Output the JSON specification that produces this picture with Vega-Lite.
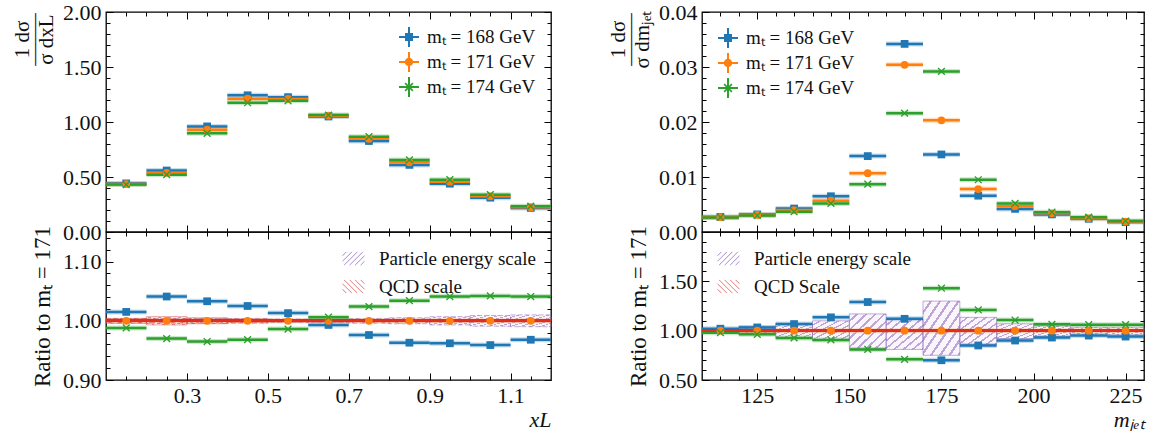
{
"$schema": "https://vega.github.io/schema/vega-lite/v6.json",
"padding": {"left": 10, "top": 0, "right": 5, "bottom": 0},
"datasets": {
"xl": [
{"x0":0.1,"x1":0.2,"xc":0.15,"s":"mₜ = 168 GeV","v":0.442,"r":1.015},
{"x0":0.2,"x1":0.3,"xc":0.25,"s":"mₜ = 168 GeV","v":0.559,"r":1.041},
{"x0":0.3,"x1":0.4,"xc":0.35,"s":"mₜ = 168 GeV","v":0.960,"r":1.033},
{"x0":0.4,"x1":0.5,"xc":0.45,"s":"mₜ = 168 GeV","v":1.243,"r":1.025},
{"x0":0.5,"x1":0.6,"xc":0.55,"s":"mₜ = 168 GeV","v":1.226,"r":1.013},
{"x0":0.6,"x1":0.7,"xc":0.65,"s":"mₜ = 168 GeV","v":1.050,"r":0.993},
{"x0":0.7,"x1":0.8,"xc":0.75,"s":"mₜ = 168 GeV","v":0.827,"r":0.976},
{"x0":0.8,"x1":0.9,"xc":0.85,"s":"mₜ = 168 GeV","v":0.610,"r":0.963},
{"x0":0.9,"x1":1.0,"xc":0.95,"s":"mₜ = 168 GeV","v":0.439,"r":0.962},
{"x0":1.0,"x1":1.1,"xc":1.05,"s":"mₜ = 168 GeV","v":0.312,"r":0.959},
{"x0":1.1,"x1":1.2,"xc":1.15,"s":"mₜ = 168 GeV","v":0.219,"r":0.968},
{"x0":0.1,"x1":0.2,"xc":0.15,"s":"mₜ = 171 GeV","v":0.436,"r":1.0},
{"x0":0.2,"x1":0.3,"xc":0.25,"s":"mₜ = 171 GeV","v":0.537,"r":1.0},
{"x0":0.3,"x1":0.4,"xc":0.35,"s":"mₜ = 171 GeV","v":0.930,"r":1.0},
{"x0":0.4,"x1":0.5,"xc":0.45,"s":"mₜ = 171 GeV","v":1.212,"r":1.0},
{"x0":0.5,"x1":0.6,"xc":0.55,"s":"mₜ = 171 GeV","v":1.210,"r":1.0},
{"x0":0.6,"x1":0.7,"xc":0.65,"s":"mₜ = 171 GeV","v":1.057,"r":1.0},
{"x0":0.7,"x1":0.8,"xc":0.75,"s":"mₜ = 171 GeV","v":0.847,"r":1.0},
{"x0":0.8,"x1":0.9,"xc":0.85,"s":"mₜ = 171 GeV","v":0.633,"r":1.0},
{"x0":0.9,"x1":1.0,"xc":0.95,"s":"mₜ = 171 GeV","v":0.457,"r":1.0},
{"x0":1.0,"x1":1.1,"xc":1.05,"s":"mₜ = 171 GeV","v":0.325,"r":1.0},
{"x0":1.1,"x1":1.2,"xc":1.15,"s":"mₜ = 171 GeV","v":0.226,"r":1.0},
{"x0":0.1,"x1":0.2,"xc":0.15,"s":"mₜ = 174 GeV","v":0.431,"r":0.988},
{"x0":0.2,"x1":0.3,"xc":0.25,"s":"mₜ = 174 GeV","v":0.521,"r":0.970},
{"x0":0.3,"x1":0.4,"xc":0.35,"s":"mₜ = 174 GeV","v":0.897,"r":0.965},
{"x0":0.4,"x1":0.5,"xc":0.45,"s":"mₜ = 174 GeV","v":1.175,"r":0.968},
{"x0":0.5,"x1":0.6,"xc":0.55,"s":"mₜ = 174 GeV","v":1.193,"r":0.986},
{"x0":0.6,"x1":0.7,"xc":0.65,"s":"mₜ = 174 GeV","v":1.063,"r":1.006},
{"x0":0.7,"x1":0.8,"xc":0.75,"s":"mₜ = 174 GeV","v":0.867,"r":1.024},
{"x0":0.8,"x1":0.9,"xc":0.85,"s":"mₜ = 174 GeV","v":0.655,"r":1.034},
{"x0":0.9,"x1":1.0,"xc":0.95,"s":"mₜ = 174 GeV","v":0.476,"r":1.041},
{"x0":1.0,"x1":1.1,"xc":1.05,"s":"mₜ = 174 GeV","v":0.339,"r":1.042},
{"x0":1.1,"x1":1.2,"xc":1.15,"s":"mₜ = 174 GeV","v":0.235,"r":1.041}
],
"mj": [
{"x0":110,"x1":120,"xc":115,"s":"mₜ = 168 GeV","v":0.00275,"r":1.02},
{"x0":120,"x1":130,"xc":125,"s":"mₜ = 168 GeV","v":0.0032,"r":1.033},
{"x0":130,"x1":140,"xc":135,"s":"mₜ = 168 GeV","v":0.00427,"r":1.067},
{"x0":140,"x1":150,"xc":145,"s":"mₜ = 168 GeV","v":0.0065,"r":1.135},
{"x0":150,"x1":160,"xc":155,"s":"mₜ = 168 GeV","v":0.0138,"r":1.29},
{"x0":160,"x1":170,"xc":165,"s":"mₜ = 168 GeV","v":0.0342,"r":1.12},
{"x0":170,"x1":180,"xc":175,"s":"mₜ = 168 GeV","v":0.0141,"r":0.70},
{"x0":180,"x1":190,"xc":185,"s":"mₜ = 168 GeV","v":0.0066,"r":0.85},
{"x0":190,"x1":200,"xc":195,"s":"mₜ = 168 GeV","v":0.0042,"r":0.90},
{"x0":200,"x1":210,"xc":205,"s":"mₜ = 168 GeV","v":0.0032,"r":0.93},
{"x0":210,"x1":220,"xc":215,"s":"mₜ = 168 GeV","v":0.0024,"r":0.95},
{"x0":220,"x1":230,"xc":225,"s":"mₜ = 168 GeV","v":0.0018,"r":0.94},
{"x0":110,"x1":120,"xc":115,"s":"mₜ = 171 GeV","v":0.0027,"r":1.0},
{"x0":120,"x1":130,"xc":125,"s":"mₜ = 171 GeV","v":0.0031,"r":1.0},
{"x0":130,"x1":140,"xc":135,"s":"mₜ = 171 GeV","v":0.0040,"r":1.0},
{"x0":140,"x1":150,"xc":145,"s":"mₜ = 171 GeV","v":0.0057,"r":1.0},
{"x0":150,"x1":160,"xc":155,"s":"mₜ = 171 GeV","v":0.0107,"r":1.0},
{"x0":160,"x1":170,"xc":165,"s":"mₜ = 171 GeV","v":0.0304,"r":1.0},
{"x0":170,"x1":180,"xc":175,"s":"mₜ = 171 GeV","v":0.0203,"r":1.0},
{"x0":180,"x1":190,"xc":185,"s":"mₜ = 171 GeV","v":0.0078,"r":1.0},
{"x0":190,"x1":200,"xc":195,"s":"mₜ = 171 GeV","v":0.0047,"r":1.0},
{"x0":200,"x1":210,"xc":205,"s":"mₜ = 171 GeV","v":0.0034,"r":1.0},
{"x0":210,"x1":220,"xc":215,"s":"mₜ = 171 GeV","v":0.0025,"r":1.0},
{"x0":220,"x1":230,"xc":225,"s":"mₜ = 171 GeV","v":0.0019,"r":1.0},
{"x0":110,"x1":120,"xc":115,"s":"mₜ = 174 GeV","v":0.00265,"r":0.98},
{"x0":120,"x1":130,"xc":125,"s":"mₜ = 174 GeV","v":0.0030,"r":0.963},
{"x0":130,"x1":140,"xc":135,"s":"mₜ = 174 GeV","v":0.0037,"r":0.926},
{"x0":140,"x1":150,"xc":145,"s":"mₜ = 174 GeV","v":0.0052,"r":0.906},
{"x0":150,"x1":160,"xc":155,"s":"mₜ = 174 GeV","v":0.0087,"r":0.81},
{"x0":160,"x1":170,"xc":165,"s":"mₜ = 174 GeV","v":0.0216,"r":0.71},
{"x0":170,"x1":180,"xc":175,"s":"mₜ = 174 GeV","v":0.0292,"r":1.43},
{"x0":180,"x1":190,"xc":185,"s":"mₜ = 174 GeV","v":0.0095,"r":1.21},
{"x0":190,"x1":200,"xc":195,"s":"mₜ = 174 GeV","v":0.0052,"r":1.108},
{"x0":200,"x1":210,"xc":205,"s":"mₜ = 174 GeV","v":0.0036,"r":1.064},
{"x0":210,"x1":220,"xc":215,"s":"mₜ = 174 GeV","v":0.0027,"r":1.06},
{"x0":220,"x1":230,"xc":225,"s":"mₜ = 174 GeV","v":0.0020,"r":1.06}
],
"xlb": [
{"x0":0.1,"x1":0.2,"b":"Particle energy scale","lo":0.996,"hi":1.004},
{"x0":0.2,"x1":0.3,"b":"Particle energy scale","lo":0.996,"hi":1.004},
{"x0":0.3,"x1":0.4,"b":"Particle energy scale","lo":0.996,"hi":1.004},
{"x0":0.4,"x1":0.5,"b":"Particle energy scale","lo":0.996,"hi":1.004},
{"x0":0.5,"x1":0.6,"b":"Particle energy scale","lo":0.997,"hi":1.003},
{"x0":0.6,"x1":0.7,"b":"Particle energy scale","lo":0.997,"hi":1.003},
{"x0":0.7,"x1":0.8,"b":"Particle energy scale","lo":0.996,"hi":1.004},
{"x0":0.8,"x1":0.9,"b":"Particle energy scale","lo":0.995,"hi":1.005},
{"x0":0.9,"x1":1.0,"b":"Particle energy scale","lo":0.993,"hi":1.007},
{"x0":1.0,"x1":1.1,"b":"Particle energy scale","lo":0.991,"hi":1.009},
{"x0":1.1,"x1":1.2,"b":"Particle energy scale","lo":0.990,"hi":1.010},
{"x0":0.1,"x1":0.2,"b":"QCD scale","lo":0.996,"hi":1.004},
{"x0":0.2,"x1":0.3,"b":"QCD scale","lo":0.993,"hi":1.007},
{"x0":0.3,"x1":0.4,"b":"QCD scale","lo":0.995,"hi":1.005},
{"x0":0.4,"x1":0.5,"b":"QCD scale","lo":0.997,"hi":1.003},
{"x0":0.5,"x1":0.6,"b":"QCD scale","lo":0.998,"hi":1.002},
{"x0":0.6,"x1":0.7,"b":"QCD scale","lo":0.998,"hi":1.002},
{"x0":0.7,"x1":0.8,"b":"QCD scale","lo":0.998,"hi":1.002},
{"x0":0.8,"x1":0.9,"b":"QCD scale","lo":0.998,"hi":1.002},
{"x0":0.9,"x1":1.0,"b":"QCD scale","lo":0.998,"hi":1.002},
{"x0":1.0,"x1":1.1,"b":"QCD scale","lo":0.998,"hi":1.002},
{"x0":1.1,"x1":1.2,"b":"QCD scale","lo":0.998,"hi":1.002}
],
"mjb": [
{"x0":110,"x1":120,"b":"Particle energy scale","lo":0.98,"hi":1.02},
{"x0":120,"x1":130,"b":"Particle energy scale","lo":0.96,"hi":1.045},
{"x0":130,"x1":140,"b":"Particle energy scale","lo":0.93,"hi":1.07},
{"x0":140,"x1":150,"b":"Particle energy scale","lo":0.90,"hi":1.10},
{"x0":150,"x1":160,"b":"Particle energy scale","lo":0.82,"hi":1.17},
{"x0":160,"x1":170,"b":"Particle energy scale","lo":0.81,"hi":1.12},
{"x0":170,"x1":180,"b":"Particle energy scale","lo":0.75,"hi":1.30},
{"x0":180,"x1":190,"b":"Particle energy scale","lo":0.86,"hi":1.135},
{"x0":190,"x1":200,"b":"Particle energy scale","lo":0.92,"hi":1.07},
{"x0":200,"x1":210,"b":"Particle energy scale","lo":0.94,"hi":1.05},
{"x0":210,"x1":220,"b":"Particle energy scale","lo":0.95,"hi":1.035},
{"x0":220,"x1":230,"b":"Particle energy scale","lo":0.955,"hi":1.035},
{"x0":110,"x1":120,"b":"QCD Scale","lo":0.98,"hi":1.02},
{"x0":120,"x1":130,"b":"QCD Scale","lo":0.985,"hi":1.015},
{"x0":130,"x1":140,"b":"QCD Scale","lo":0.99,"hi":1.01},
{"x0":140,"x1":150,"b":"QCD Scale","lo":0.99,"hi":1.01},
{"x0":150,"x1":160,"b":"QCD Scale","lo":0.99,"hi":1.01},
{"x0":160,"x1":170,"b":"QCD Scale","lo":0.99,"hi":1.01},
{"x0":170,"x1":180,"b":"QCD Scale","lo":0.99,"hi":1.01},
{"x0":180,"x1":190,"b":"QCD Scale","lo":0.99,"hi":1.01},
{"x0":190,"x1":200,"b":"QCD Scale","lo":0.99,"hi":1.01},
{"x0":200,"x1":210,"b":"QCD Scale","lo":0.99,"hi":1.01},
{"x0":210,"x1":220,"b":"QCD Scale","lo":0.99,"hi":1.01},
{"x0":220,"x1":230,"b":"QCD Scale","lo":0.99,"hi":1.01}
]
},
"spacing": 51,
"resolve": {"scale": {"color": "independent", "fill": "independent", "shape": "independent", "stroke": "independent"}, "legend": {"color": "independent", "fill": "independent", "shape": "independent", "stroke": "independent"}},
"hconcat": [
{
"spacing": 0, "bounds": "flush",
"resolve": {"scale": {"color": "independent", "fill": "independent", "shape": "independent", "stroke": "independent"}, "legend": {"color": "independent", "fill": "independent", "shape": "independent", "stroke": "independent"}},
"vconcat": [
{
"width": 445, "height": 220,
"data": {"name": "xl"},
"resolve": {"axis": {"x": "independent", "y": "independent"}},
"layer": [
{"mark": {"type": "point", "opacity": 0},
 "encoding": {
  "x": {"field": "xc", "type": "quantitative", "scale": {"domain": [0.1, 1.2], "nice": false, "zero": false},
        "axis": {"orient": "bottom", "values": [0.3,0.5,0.7,0.9,1.1], "labels": false, "tickSize": -7, "title": null}},
  "y": {"field": "v", "type": "quantitative", "scale": {"domain": [0, 2], "nice": false, "zero": false},
        "axis": {"orient": "left", "values": [0,0.5,1,1.5,2], "format": ".2f", "tickSize": -7, "labelPadding": 12,
                 "title": ["1  dσ", "——–", "σ dxL"], "titleFontSize": 21, "titleAlign": "center", "titleY": 27, "titlePadding": 6, "titleLineHeight": 12}}}},
{"mark": {"type": "point", "opacity": 0},
 "encoding": {
  "x": {"field": "xc", "type": "quantitative", "axis": {"orient": "bottom", "values": [0.15,0.2,0.25,0.35,0.4,0.45,0.55,0.6,0.65,0.75,0.8,0.85,0.95,1.0,1.05,1.15], "labels": false, "tickSize": -4, "title": null}},
  "y": {"field": "v", "type": "quantitative", "axis": {"orient": "left", "values": [0.1,0.2,0.3,0.4,0.6,0.7,0.8,0.9,1.1,1.2,1.3,1.4,1.6,1.7,1.8,1.9], "labels": false, "tickSize": -4, "title": null}}}},
{"mark": {"type": "point", "opacity": 0},
 "encoding": {
  "x": {"field": "xc", "type": "quantitative", "axis": {"orient": "top", "values": [0.3,0.5,0.7,0.9,1.1], "labels": false, "tickSize": -7, "title": null}},
  "y": {"field": "v", "type": "quantitative", "axis": {"orient": "right", "values": [0,0.5,1,1.5,2], "labels": false, "tickSize": -7, "title": null}}}},
{"mark": {"type": "point", "opacity": 0},
 "encoding": {
  "x": {"field": "xc", "type": "quantitative", "axis": {"orient": "top", "values": [0.15,0.2,0.25,0.35,0.4,0.45,0.55,0.6,0.65,0.75,0.8,0.85,0.95,1.0,1.05,1.15], "labels": false, "tickSize": -4, "title": null}},
  "y": {"field": "v", "type": "quantitative", "axis": {"orient": "right", "values": [0.1,0.2,0.3,0.4,0.6,0.7,0.8,0.9,1.1,1.2,1.3,1.4,1.6,1.7,1.8,1.9], "labels": false, "tickSize": -4, "title": null}}}},
{"mark": {"type": "rule", "strokeWidth": 5, "opacity": 0.25},
 "encoding": {
  "x": {"field": "x0", "type": "quantitative", "axis": null}, "x2": {"field": "x1"},
  "y": {"field": "v", "type": "quantitative", "axis": null},
  "color": {"field": "s", "type": "nominal", "scale": {"domain": ["mₜ = 168 GeV","mₜ = 171 GeV","mₜ = 174 GeV","none"], "range": ["#1f77b4","#ff7f0e","#2ca02c","#000000"]}, "legend": null}}},
{"mark": {"type": "rule", "strokeWidth": 2.5},
 "encoding": {
  "x": {"field": "x0", "type": "quantitative", "axis": null}, "x2": {"field": "x1"},
  "y": {"field": "v", "type": "quantitative", "axis": null},
  "color": {"field": "s", "type": "nominal", "legend": null}}},
{"transform": [{"filter": {"field": "s", "equal": "mₜ = 168 GeV"}}],
 "mark": {"type": "point", "shape": "square", "filled": true, "size": 60, "color": "#1f77b4", "opacity": 1},
 "encoding": {"x": {"field": "xc", "type": "quantitative", "axis": null}, "y": {"field": "v", "type": "quantitative", "axis": null}}},
{"transform": [{"filter": {"field": "s", "equal": "mₜ = 171 GeV"}}],
 "mark": {"type": "point", "shape": "circle", "filled": true, "size": 60, "color": "#ff7f0e", "opacity": 1},
 "encoding": {"x": {"field": "xc", "type": "quantitative", "axis": null}, "y": {"field": "v", "type": "quantitative", "axis": null}}},
{"transform": [{"filter": {"field": "s", "equal": "mₜ = 174 GeV"}}],
 "mark": {"type": "point", "shape": "M-1,-0.75L-0.75,-1L1,0.75L0.75,1Z M0.75,-1L1,-0.75L-0.75,1L-1,0.75Z", "filled": true, "size": 60, "color": "#2ca02c", "opacity": 1},
 "encoding": {"x": {"field": "xc", "type": "quantitative", "axis": null}, "y": {"field": "v", "type": "quantitative", "axis": null}}},
{"data": {"name": "xlb"},
 "transform": [{"filter": "false"}],
 "mark": {"type": "point", "filled": true, "opacity": 1},
 "encoding": {
  "fill": {"field": "s", "type": "nominal", "scale": {"domain": ["mₜ = 168 GeV","mₜ = 171 GeV","mₜ = 174 GeV"], "range": ["#1f77b4","#ff7f0e","#2ca02c"]},
           "legend": {"title": null, "orient": "top-right", "offset": 15, "padding": 0, "rowPadding": 5, "labelOffset": 8, "symbolSize": 400, "symbolStrokeWidth": 0, "labelFontSize": 19}},
  "shape": {"field": "s", "type": "nominal", "scale": {"domain": ["mₜ = 168 GeV","mₜ = 171 GeV","mₜ = 174 GeV"], "range": ["M-1,-0.1H1V0.1H-1Z M-0.1,-1H0.1V1H-0.1Z M-0.4,-0.4H0.4V0.4H-0.4Z", "M-1,-0.1H1V0.1H-1Z M-0.1,-1H0.1V1H-0.1Z M-0.42,0A0.42,0.42 0 1,1 0.42,0A0.42,0.42 0 1,1 -0.42,0Z", "M-1,-0.1H1V0.1H-1Z M-0.1,-1H0.1V1H-0.1Z M-0.45,-0.33L-0.33,-0.45L0.45,0.33L0.33,0.45Z M0.33,-0.45L0.45,-0.33L-0.33,0.45L-0.45,0.33Z"]},
           "legend": {"title": null, "orient": "top-right", "offset": 15, "padding": 0, "rowPadding": 5, "labelOffset": 8, "symbolSize": 400, "symbolStrokeWidth": 0, "labelFontSize": 19}}}}
]
},
{
"width": 445, "height": 148,
"data": {"name": "xl"},
"resolve": {"axis": {"x": "independent", "y": "independent"}},
"layer": [
{"mark": {"type": "point", "opacity": 0},
 "encoding": {
  "x": {"field": "xc", "type": "quantitative", "scale": {"domain": [0.1, 1.2], "nice": false, "zero": false},
        "axis": {"orient": "bottom", "values": [0.3,0.5,0.7,0.9,1.1], "format": ".1f", "tickSize": -7, "labelPadding": 12, "title": "xL", "titleAnchor": "end", "titleFontStyle": "italic", "titleFontSize": 22, "titlePadding": 3}},
  "y": {"field": "r", "type": "quantitative", "scale": {"domain": [0.9, 1.15], "nice": false, "zero": false},
        "axis": {"orient": "left", "values": [0.9,1.0,1.1], "format": ".2f", "tickSize": -7, "labelPadding": 12, "title": "Ratio to mₜ = 171", "titleFontSize": 23, "titlePadding": 8}}}},
{"mark": {"type": "point", "opacity": 0},
 "encoding": {
  "x": {"field": "xc", "type": "quantitative", "axis": {"orient": "bottom", "values": [0.15,0.2,0.25,0.35,0.4,0.45,0.55,0.6,0.65,0.75,0.8,0.85,0.95,1.0,1.05,1.15], "labels": false, "tickSize": -4, "title": null}},
  "y": {"field": "r", "type": "quantitative", "axis": {"orient": "left", "values": [0.92,0.94,0.96,0.98,1.02,1.04,1.06,1.08,1.12,1.14], "labels": false, "tickSize": -4, "title": null}}}},
{"mark": {"type": "point", "opacity": 0},
 "encoding": {
  "x": {"field": "xc", "type": "quantitative", "axis": {"orient": "top", "values": [0.3,0.5,0.7,0.9,1.1], "labels": false, "tickSize": -7, "title": null}},
  "y": {"field": "r", "type": "quantitative", "axis": {"orient": "right", "values": [0.9,1.0,1.1], "labels": false, "tickSize": -7, "title": null}}}},
{"mark": {"type": "point", "opacity": 0},
 "encoding": {
  "x": {"field": "xc", "type": "quantitative", "axis": {"orient": "top", "values": [0.15,0.2,0.25,0.35,0.4,0.45,0.55,0.6,0.65,0.75,0.8,0.85,0.95,1.0,1.05,1.15], "labels": false, "tickSize": -4, "title": null}},
  "y": {"field": "r", "type": "quantitative", "axis": {"orient": "right", "values": [0.92,0.94,0.96,0.98,1.02,1.04,1.06,1.08,1.12,1.14], "labels": false, "tickSize": -4, "title": null}}}},
{"data": {"name": "xlb"},
 "transform": [{"filter": {"field": "b", "equal": "Particle energy scale"}}],
 "mark": {"type": "rect", "stroke": "#9467bd", "strokeOpacity": 0.55, "strokeWidth": 1, "strokeDash": [5, 2],
   "fill": {"gradient": "linear", "x1": 0, "y1": 0, "x2": 1, "y2": 1, "stops": [
    {"offset":0,"color":"rgba(148,103,189,0.06)"},{"offset":0.09,"color":"rgba(148,103,189,0.06)"},{"offset":0.09,"color":"rgba(148,103,189,0.6)"},{"offset":0.125,"color":"rgba(148,103,189,0.6)"},
    {"offset":0.125,"color":"rgba(148,103,189,0.06)"},{"offset":0.215,"color":"rgba(148,103,189,0.06)"},{"offset":0.215,"color":"rgba(148,103,189,0.6)"},{"offset":0.25,"color":"rgba(148,103,189,0.6)"},
    {"offset":0.25,"color":"rgba(148,103,189,0.06)"},{"offset":0.34,"color":"rgba(148,103,189,0.06)"},{"offset":0.34,"color":"rgba(148,103,189,0.6)"},{"offset":0.375,"color":"rgba(148,103,189,0.6)"},
    {"offset":0.375,"color":"rgba(148,103,189,0.06)"},{"offset":0.465,"color":"rgba(148,103,189,0.06)"},{"offset":0.465,"color":"rgba(148,103,189,0.6)"},{"offset":0.5,"color":"rgba(148,103,189,0.6)"},
    {"offset":0.5,"color":"rgba(148,103,189,0.06)"},{"offset":0.59,"color":"rgba(148,103,189,0.06)"},{"offset":0.59,"color":"rgba(148,103,189,0.6)"},{"offset":0.625,"color":"rgba(148,103,189,0.6)"},
    {"offset":0.625,"color":"rgba(148,103,189,0.06)"},{"offset":0.715,"color":"rgba(148,103,189,0.06)"},{"offset":0.715,"color":"rgba(148,103,189,0.6)"},{"offset":0.75,"color":"rgba(148,103,189,0.6)"},
    {"offset":0.75,"color":"rgba(148,103,189,0.06)"},{"offset":0.84,"color":"rgba(148,103,189,0.06)"},{"offset":0.84,"color":"rgba(148,103,189,0.6)"},{"offset":0.875,"color":"rgba(148,103,189,0.6)"},
    {"offset":0.875,"color":"rgba(148,103,189,0.06)"},{"offset":0.965,"color":"rgba(148,103,189,0.06)"},{"offset":0.965,"color":"rgba(148,103,189,0.6)"},{"offset":1,"color":"rgba(148,103,189,0.6)"}]}},
 "encoding": {
  "x": {"field": "x0", "type": "quantitative", "axis": null}, "x2": {"field": "x1"},
  "y": {"field": "lo", "type": "quantitative", "axis": null}, "y2": {"field": "hi"}}},
{"data": {"name": "xlb"},
 "transform": [{"filter": {"field": "b", "equal": "QCD scale"}}],
 "mark": {"type": "rect", "stroke": "#d62728", "strokeOpacity": 0.4, "strokeWidth": 1,
   "fill": {"gradient": "linear", "x1": 0, "y1": 1, "x2": 1, "y2": 0, "stops": [
    {"offset":0,"color":"rgba(214,39,40,0.06)"},{"offset":0.09,"color":"rgba(214,39,40,0.06)"},{"offset":0.09,"color":"rgba(214,39,40,0.5)"},{"offset":0.125,"color":"rgba(214,39,40,0.5)"},
    {"offset":0.125,"color":"rgba(214,39,40,0.06)"},{"offset":0.215,"color":"rgba(214,39,40,0.06)"},{"offset":0.215,"color":"rgba(214,39,40,0.5)"},{"offset":0.25,"color":"rgba(214,39,40,0.5)"},
    {"offset":0.25,"color":"rgba(214,39,40,0.06)"},{"offset":0.34,"color":"rgba(214,39,40,0.06)"},{"offset":0.34,"color":"rgba(214,39,40,0.5)"},{"offset":0.375,"color":"rgba(214,39,40,0.5)"},
    {"offset":0.375,"color":"rgba(214,39,40,0.06)"},{"offset":0.465,"color":"rgba(214,39,40,0.06)"},{"offset":0.465,"color":"rgba(214,39,40,0.5)"},{"offset":0.5,"color":"rgba(214,39,40,0.5)"},
    {"offset":0.5,"color":"rgba(214,39,40,0.06)"},{"offset":0.59,"color":"rgba(214,39,40,0.06)"},{"offset":0.59,"color":"rgba(214,39,40,0.5)"},{"offset":0.625,"color":"rgba(214,39,40,0.5)"},
    {"offset":0.625,"color":"rgba(214,39,40,0.06)"},{"offset":0.715,"color":"rgba(214,39,40,0.06)"},{"offset":0.715,"color":"rgba(214,39,40,0.5)"},{"offset":0.75,"color":"rgba(214,39,40,0.5)"},
    {"offset":0.75,"color":"rgba(214,39,40,0.06)"},{"offset":0.84,"color":"rgba(214,39,40,0.06)"},{"offset":0.84,"color":"rgba(214,39,40,0.5)"},{"offset":0.875,"color":"rgba(214,39,40,0.5)"},
    {"offset":0.875,"color":"rgba(214,39,40,0.06)"},{"offset":0.965,"color":"rgba(214,39,40,0.06)"},{"offset":0.965,"color":"rgba(214,39,40,0.5)"},{"offset":1,"color":"rgba(214,39,40,0.5)"}]}},
 "encoding": {
  "x": {"field": "x0", "type": "quantitative", "axis": null}, "x2": {"field": "x1"},
  "y": {"field": "lo", "type": "quantitative", "axis": null}, "y2": {"field": "hi"}}},
{"mark": {"type": "rule", "strokeWidth": 5, "opacity": 0.25},
 "encoding": {
  "x": {"field": "x0", "type": "quantitative", "axis": null}, "x2": {"field": "x1"},
  "y": {"field": "r", "type": "quantitative", "axis": null},
  "color": {"field": "s", "type": "nominal", "scale": {"domain": ["mₜ = 168 GeV","mₜ = 171 GeV","mₜ = 174 GeV","none"], "range": ["#1f77b4","#ff7f0e","#2ca02c","#000000"]}, "legend": null}}},
{"mark": {"type": "rule", "strokeWidth": 2.5},
 "encoding": {
  "x": {"field": "x0", "type": "quantitative", "axis": null}, "x2": {"field": "x1"},
  "y": {"field": "r", "type": "quantitative", "axis": null},
  "color": {"field": "s", "type": "nominal", "legend": null}}},
{"mark": {"type": "rule", "color": "#e0301e", "strokeWidth": 2, "opacity": 0.55},
 "encoding": {"y": {"datum": 1, "type": "quantitative", "axis": null}}},
{"transform": [{"filter": {"field": "s", "equal": "mₜ = 168 GeV"}}],
 "mark": {"type": "point", "shape": "square", "filled": true, "size": 60, "color": "#1f77b4", "opacity": 1},
 "encoding": {"x": {"field": "xc", "type": "quantitative", "axis": null}, "y": {"field": "r", "type": "quantitative", "axis": null}}},
{"transform": [{"filter": {"field": "s", "equal": "mₜ = 171 GeV"}}],
 "mark": {"type": "point", "shape": "circle", "filled": true, "size": 60, "color": "#ff7f0e", "opacity": 1},
 "encoding": {"x": {"field": "xc", "type": "quantitative", "axis": null}, "y": {"field": "r", "type": "quantitative", "axis": null}}},
{"transform": [{"filter": {"field": "s", "equal": "mₜ = 174 GeV"}}],
 "mark": {"type": "point", "shape": "M-1,-0.75L-0.75,-1L1,0.75L0.75,1Z M0.75,-1L1,-0.75L-0.75,1L-1,0.75Z", "filled": true, "size": 60, "color": "#2ca02c", "opacity": 1},
 "encoding": {"x": {"field": "xc", "type": "quantitative", "axis": null}, "y": {"field": "r", "type": "quantitative", "axis": null}}},
{"data": {"name": "xlb"},
 "transform": [{"filter": "false"}],
 "mark": {"type": "point", "filled": false, "opacity": 1, "strokeWidth": 1},
 "encoding": {
  "stroke": {"field": "b", "type": "nominal", "scale": {"domain": ["Particle energy scale", "QCD scale"], "range": ["#a58ad0", "#e8777a"]},
             "legend": {"title": null, "orient": "top-right", "offset": 15, "padding": 0, "rowPadding": 6, "labelOffset": 14, "symbolSize": 484, "symbolStrokeWidth": 1, "labelFontSize": 19}},
  "shape": {"field": "b", "type": "nominal", "scale": {"domain": ["Particle energy scale", "QCD scale"], "range": ["M-1,-0.25L-0.65,-0.6M-1,0.25L-0.15,-0.6M-0.85,0.6L0.35,-0.6M-0.35,0.6L0.85,-0.6M0.15,0.6L1,-0.25M0.65,0.6L1,0.25", "M1,-0.25L0.65,-0.6M1,0.25L0.15,-0.6M0.85,0.6L-0.35,-0.6M0.35,0.6L-0.85,-0.6M-0.15,0.6L-1,-0.25M-0.65,0.6L-1,0.25"]},
             "legend": {"title": null, "orient": "top-right", "offset": 15, "padding": 0, "rowPadding": 6, "labelOffset": 14, "symbolSize": 484, "symbolStrokeWidth": 1, "labelFontSize": 19}}}}
]
}
]
},
{
"spacing": 0, "bounds": "flush",
"resolve": {"scale": {"color": "independent", "fill": "independent", "shape": "independent", "stroke": "independent"}, "legend": {"color": "independent", "fill": "independent", "shape": "independent", "stroke": "independent"}},
"vconcat": [
{
"width": 442, "height": 220,
"data": {"name": "mj"},
"resolve": {"axis": {"x": "independent", "y": "independent"}},
"layer": [
{"mark": {"type": "point", "opacity": 0},
 "encoding": {
  "x": {"field": "xc", "type": "quantitative", "scale": {"domain": [110, 230], "nice": false, "zero": false},
        "axis": {"orient": "bottom", "values": [125,150,175,200,225], "labels": false, "tickSize": -7, "title": null}},
  "y": {"field": "v", "type": "quantitative", "scale": {"domain": [0, 0.04], "nice": false, "zero": false},
        "axis": {"orient": "left", "values": [0,0.01,0.02,0.03,0.04], "format": ".2f", "tickSize": -7, "labelPadding": 12,
                 "title": ["1  dσ", "——–", "σ dmⱼₑₜ"], "titleFontSize": 21, "titleAlign": "center", "titleY": 27, "titlePadding": 6, "titleLineHeight": 12}}}},
{"mark": {"type": "point", "opacity": 0},
 "encoding": {
  "x": {"field": "xc", "type": "quantitative", "axis": {"orient": "bottom", "values": [115,120,130,135,140,145,155,160,165,170,180,185,190,195,205,210,215,220], "labels": false, "tickSize": -4, "title": null}},
  "y": {"field": "v", "type": "quantitative", "axis": {"orient": "left", "values": [0.002,0.004,0.006,0.008,0.012,0.014,0.016,0.018,0.022,0.024,0.026,0.028,0.032,0.034,0.036,0.038], "labels": false, "tickSize": -4, "title": null}}}},
{"mark": {"type": "point", "opacity": 0},
 "encoding": {
  "x": {"field": "xc", "type": "quantitative", "axis": {"orient": "top", "values": [125,150,175,200,225], "labels": false, "tickSize": -7, "title": null}},
  "y": {"field": "v", "type": "quantitative", "axis": {"orient": "right", "values": [0,0.01,0.02,0.03,0.04], "labels": false, "tickSize": -7, "title": null}}}},
{"mark": {"type": "point", "opacity": 0},
 "encoding": {
  "x": {"field": "xc", "type": "quantitative", "axis": {"orient": "top", "values": [115,120,130,135,140,145,155,160,165,170,180,185,190,195,205,210,215,220], "labels": false, "tickSize": -4, "title": null}},
  "y": {"field": "v", "type": "quantitative", "axis": {"orient": "right", "values": [0.002,0.004,0.006,0.008,0.012,0.014,0.016,0.018,0.022,0.024,0.026,0.028,0.032,0.034,0.036,0.038], "labels": false, "tickSize": -4, "title": null}}}},
{"mark": {"type": "rule", "strokeWidth": 5, "opacity": 0.25},
 "encoding": {
  "x": {"field": "x0", "type": "quantitative", "axis": null}, "x2": {"field": "x1"},
  "y": {"field": "v", "type": "quantitative", "axis": null},
  "color": {"field": "s", "type": "nominal", "scale": {"domain": ["mₜ = 168 GeV","mₜ = 171 GeV","mₜ = 174 GeV","none"], "range": ["#1f77b4","#ff7f0e","#2ca02c","#000000"]}, "legend": null}}},
{"mark": {"type": "rule", "strokeWidth": 2.5},
 "encoding": {
  "x": {"field": "x0", "type": "quantitative", "axis": null}, "x2": {"field": "x1"},
  "y": {"field": "v", "type": "quantitative", "axis": null},
  "color": {"field": "s", "type": "nominal", "legend": null}}},
{"transform": [{"filter": {"field": "s", "equal": "mₜ = 168 GeV"}}],
 "mark": {"type": "point", "shape": "square", "filled": true, "size": 60, "color": "#1f77b4", "opacity": 1},
 "encoding": {"x": {"field": "xc", "type": "quantitative", "axis": null}, "y": {"field": "v", "type": "quantitative", "axis": null}}},
{"transform": [{"filter": {"field": "s", "equal": "mₜ = 171 GeV"}}],
 "mark": {"type": "point", "shape": "circle", "filled": true, "size": 60, "color": "#ff7f0e", "opacity": 1},
 "encoding": {"x": {"field": "xc", "type": "quantitative", "axis": null}, "y": {"field": "v", "type": "quantitative", "axis": null}}},
{"transform": [{"filter": {"field": "s", "equal": "mₜ = 174 GeV"}}],
 "mark": {"type": "point", "shape": "M-1,-0.75L-0.75,-1L1,0.75L0.75,1Z M0.75,-1L1,-0.75L-0.75,1L-1,0.75Z", "filled": true, "size": 60, "color": "#2ca02c", "opacity": 1},
 "encoding": {"x": {"field": "xc", "type": "quantitative", "axis": null}, "y": {"field": "v", "type": "quantitative", "axis": null}}},
{"data": {"name": "mjb"},
 "transform": [{"filter": "false"}],
 "mark": {"type": "point", "filled": true, "opacity": 1},
 "encoding": {
  "fill": {"field": "s", "type": "nominal", "scale": {"domain": ["mₜ = 168 GeV","mₜ = 171 GeV","mₜ = 174 GeV"], "range": ["#1f77b4","#ff7f0e","#2ca02c"]},
           "legend": {"title": null, "orient": "top-left", "offset": 16, "padding": 0, "rowPadding": 5, "labelOffset": 8, "symbolSize": 400, "symbolStrokeWidth": 0, "labelFontSize": 19}},
  "shape": {"field": "s", "type": "nominal", "scale": {"domain": ["mₜ = 168 GeV","mₜ = 171 GeV","mₜ = 174 GeV"], "range": ["M-1,-0.1H1V0.1H-1Z M-0.1,-1H0.1V1H-0.1Z M-0.4,-0.4H0.4V0.4H-0.4Z", "M-1,-0.1H1V0.1H-1Z M-0.1,-1H0.1V1H-0.1Z M-0.42,0A0.42,0.42 0 1,1 0.42,0A0.42,0.42 0 1,1 -0.42,0Z", "M-1,-0.1H1V0.1H-1Z M-0.1,-1H0.1V1H-0.1Z M-0.45,-0.33L-0.33,-0.45L0.45,0.33L0.33,0.45Z M0.33,-0.45L0.45,-0.33L-0.33,0.45L-0.45,0.33Z"]},
           "legend": {"title": null, "orient": "top-left", "offset": 16, "padding": 0, "rowPadding": 5, "labelOffset": 8, "symbolSize": 400, "symbolStrokeWidth": 0, "labelFontSize": 19}}}}
]
},
{
"width": 442, "height": 148,
"data": {"name": "mj"},
"resolve": {"axis": {"x": "independent", "y": "independent"}},
"layer": [
{"mark": {"type": "point", "opacity": 0},
 "encoding": {
  "x": {"field": "xc", "type": "quantitative", "scale": {"domain": [110, 230], "nice": false, "zero": false},
        "axis": {"orient": "bottom", "values": [125,150,175,200,225], "format": "d", "tickSize": -7, "labelPadding": 12, "title": "mⱼₑₜ", "titleAnchor": "end", "titleFontStyle": "italic", "titleFontSize": 22, "titlePadding": 3}},
  "y": {"field": "r", "type": "quantitative", "scale": {"domain": [0.5, 2.0], "nice": false, "zero": false},
        "axis": {"orient": "left", "values": [0.5,1.0,1.5], "format": ".2f", "tickSize": -7, "labelPadding": 12, "title": "Ratio to mₜ = 171", "titleFontSize": 23, "titlePadding": 8}}}},
{"mark": {"type": "point", "opacity": 0},
 "encoding": {
  "x": {"field": "xc", "type": "quantitative", "axis": {"orient": "bottom", "values": [115,120,130,135,140,145,155,160,165,170,180,185,190,195,205,210,215,220], "labels": false, "tickSize": -4, "title": null}},
  "y": {"field": "r", "type": "quantitative", "axis": {"orient": "left", "values": [0.6,0.7,0.8,0.9,1.1,1.2,1.3,1.4,1.6,1.7,1.8,1.9], "labels": false, "tickSize": -4, "title": null}}}},
{"mark": {"type": "point", "opacity": 0},
 "encoding": {
  "x": {"field": "xc", "type": "quantitative", "axis": {"orient": "top", "values": [125,150,175,200,225], "labels": false, "tickSize": -7, "title": null}},
  "y": {"field": "r", "type": "quantitative", "axis": {"orient": "right", "values": [0.5,1.0,1.5], "labels": false, "tickSize": -7, "title": null}}}},
{"mark": {"type": "point", "opacity": 0},
 "encoding": {
  "x": {"field": "xc", "type": "quantitative", "axis": {"orient": "top", "values": [115,120,130,135,140,145,155,160,165,170,180,185,190,195,205,210,215,220], "labels": false, "tickSize": -4, "title": null}},
  "y": {"field": "r", "type": "quantitative", "axis": {"orient": "right", "values": [0.6,0.7,0.8,0.9,1.1,1.2,1.3,1.4,1.6,1.7,1.8,1.9], "labels": false, "tickSize": -4, "title": null}}}},
{"data": {"name": "mjb"},
 "transform": [{"filter": {"field": "b", "equal": "Particle energy scale"}}],
 "mark": {"type": "rect", "stroke": "#9467bd", "strokeOpacity": 0.55, "strokeWidth": 1,
   "fill": {"gradient": "linear", "x1": 0, "y1": 0, "x2": 1, "y2": 1, "stops": [
    {"offset":0,"color":"rgba(148,103,189,0.06)"},{"offset":0.09,"color":"rgba(148,103,189,0.06)"},{"offset":0.09,"color":"rgba(148,103,189,0.6)"},{"offset":0.125,"color":"rgba(148,103,189,0.6)"},
    {"offset":0.125,"color":"rgba(148,103,189,0.06)"},{"offset":0.215,"color":"rgba(148,103,189,0.06)"},{"offset":0.215,"color":"rgba(148,103,189,0.6)"},{"offset":0.25,"color":"rgba(148,103,189,0.6)"},
    {"offset":0.25,"color":"rgba(148,103,189,0.06)"},{"offset":0.34,"color":"rgba(148,103,189,0.06)"},{"offset":0.34,"color":"rgba(148,103,189,0.6)"},{"offset":0.375,"color":"rgba(148,103,189,0.6)"},
    {"offset":0.375,"color":"rgba(148,103,189,0.06)"},{"offset":0.465,"color":"rgba(148,103,189,0.06)"},{"offset":0.465,"color":"rgba(148,103,189,0.6)"},{"offset":0.5,"color":"rgba(148,103,189,0.6)"},
    {"offset":0.5,"color":"rgba(148,103,189,0.06)"},{"offset":0.59,"color":"rgba(148,103,189,0.06)"},{"offset":0.59,"color":"rgba(148,103,189,0.6)"},{"offset":0.625,"color":"rgba(148,103,189,0.6)"},
    {"offset":0.625,"color":"rgba(148,103,189,0.06)"},{"offset":0.715,"color":"rgba(148,103,189,0.06)"},{"offset":0.715,"color":"rgba(148,103,189,0.6)"},{"offset":0.75,"color":"rgba(148,103,189,0.6)"},
    {"offset":0.75,"color":"rgba(148,103,189,0.06)"},{"offset":0.84,"color":"rgba(148,103,189,0.06)"},{"offset":0.84,"color":"rgba(148,103,189,0.6)"},{"offset":0.875,"color":"rgba(148,103,189,0.6)"},
    {"offset":0.875,"color":"rgba(148,103,189,0.06)"},{"offset":0.965,"color":"rgba(148,103,189,0.06)"},{"offset":0.965,"color":"rgba(148,103,189,0.6)"},{"offset":1,"color":"rgba(148,103,189,0.6)"}]}},
 "encoding": {
  "x": {"field": "x0", "type": "quantitative", "axis": null}, "x2": {"field": "x1"},
  "y": {"field": "lo", "type": "quantitative", "axis": null}, "y2": {"field": "hi"}}},
{"data": {"name": "mjb"},
 "transform": [{"filter": {"field": "b", "equal": "QCD Scale"}}],
 "mark": {"type": "rect", "stroke": "#d62728", "strokeOpacity": 0.4, "strokeWidth": 1,
   "fill": {"gradient": "linear", "x1": 0, "y1": 1, "x2": 1, "y2": 0, "stops": [
    {"offset":0,"color":"rgba(214,39,40,0.06)"},{"offset":0.09,"color":"rgba(214,39,40,0.06)"},{"offset":0.09,"color":"rgba(214,39,40,0.5)"},{"offset":0.125,"color":"rgba(214,39,40,0.5)"},
    {"offset":0.125,"color":"rgba(214,39,40,0.06)"},{"offset":0.215,"color":"rgba(214,39,40,0.06)"},{"offset":0.215,"color":"rgba(214,39,40,0.5)"},{"offset":0.25,"color":"rgba(214,39,40,0.5)"},
    {"offset":0.25,"color":"rgba(214,39,40,0.06)"},{"offset":0.34,"color":"rgba(214,39,40,0.06)"},{"offset":0.34,"color":"rgba(214,39,40,0.5)"},{"offset":0.375,"color":"rgba(214,39,40,0.5)"},
    {"offset":0.375,"color":"rgba(214,39,40,0.06)"},{"offset":0.465,"color":"rgba(214,39,40,0.06)"},{"offset":0.465,"color":"rgba(214,39,40,0.5)"},{"offset":0.5,"color":"rgba(214,39,40,0.5)"},
    {"offset":0.5,"color":"rgba(214,39,40,0.06)"},{"offset":0.59,"color":"rgba(214,39,40,0.06)"},{"offset":0.59,"color":"rgba(214,39,40,0.5)"},{"offset":0.625,"color":"rgba(214,39,40,0.5)"},
    {"offset":0.625,"color":"rgba(214,39,40,0.06)"},{"offset":0.715,"color":"rgba(214,39,40,0.06)"},{"offset":0.715,"color":"rgba(214,39,40,0.5)"},{"offset":0.75,"color":"rgba(214,39,40,0.5)"},
    {"offset":0.75,"color":"rgba(214,39,40,0.06)"},{"offset":0.84,"color":"rgba(214,39,40,0.06)"},{"offset":0.84,"color":"rgba(214,39,40,0.5)"},{"offset":0.875,"color":"rgba(214,39,40,0.5)"},
    {"offset":0.875,"color":"rgba(214,39,40,0.06)"},{"offset":0.965,"color":"rgba(214,39,40,0.06)"},{"offset":0.965,"color":"rgba(214,39,40,0.5)"},{"offset":1,"color":"rgba(214,39,40,0.5)"}]}},
 "encoding": {
  "x": {"field": "x0", "type": "quantitative", "axis": null}, "x2": {"field": "x1"},
  "y": {"field": "lo", "type": "quantitative", "axis": null}, "y2": {"field": "hi"}}},
{"mark": {"type": "rule", "strokeWidth": 5, "opacity": 0.25},
 "encoding": {
  "x": {"field": "x0", "type": "quantitative", "axis": null}, "x2": {"field": "x1"},
  "y": {"field": "r", "type": "quantitative", "axis": null},
  "color": {"field": "s", "type": "nominal", "scale": {"domain": ["mₜ = 168 GeV","mₜ = 171 GeV","mₜ = 174 GeV","none"], "range": ["#1f77b4","#ff7f0e","#2ca02c","#000000"]}, "legend": null}}},
{"mark": {"type": "rule", "strokeWidth": 2.5},
 "encoding": {
  "x": {"field": "x0", "type": "quantitative", "axis": null}, "x2": {"field": "x1"},
  "y": {"field": "r", "type": "quantitative", "axis": null},
  "color": {"field": "s", "type": "nominal", "legend": null}}},
{"mark": {"type": "rule", "color": "#e0301e", "strokeWidth": 2, "opacity": 0.55},
 "encoding": {"y": {"datum": 1, "type": "quantitative", "axis": null}}},
{"transform": [{"filter": {"field": "s", "equal": "mₜ = 168 GeV"}}],
 "mark": {"type": "point", "shape": "square", "filled": true, "size": 60, "color": "#1f77b4", "opacity": 1},
 "encoding": {"x": {"field": "xc", "type": "quantitative", "axis": null}, "y": {"field": "r", "type": "quantitative", "axis": null}}},
{"transform": [{"filter": {"field": "s", "equal": "mₜ = 171 GeV"}}],
 "mark": {"type": "point", "shape": "circle", "filled": true, "size": 60, "color": "#ff7f0e", "opacity": 1},
 "encoding": {"x": {"field": "xc", "type": "quantitative", "axis": null}, "y": {"field": "r", "type": "quantitative", "axis": null}}},
{"transform": [{"filter": {"field": "s", "equal": "mₜ = 174 GeV"}}],
 "mark": {"type": "point", "shape": "M-1,-0.75L-0.75,-1L1,0.75L0.75,1Z M0.75,-1L1,-0.75L-0.75,1L-1,0.75Z", "filled": true, "size": 60, "color": "#2ca02c", "opacity": 1},
 "encoding": {"x": {"field": "xc", "type": "quantitative", "axis": null}, "y": {"field": "r", "type": "quantitative", "axis": null}}},
{"data": {"name": "mjb"},
 "transform": [{"filter": "false"}],
 "mark": {"type": "point", "filled": false, "opacity": 1, "strokeWidth": 1},
 "encoding": {
  "stroke": {"field": "b", "type": "nominal", "scale": {"domain": ["Particle energy scale", "QCD Scale"], "range": ["#a58ad0", "#e8777a"]},
             "legend": {"title": null, "orient": "top-left", "offset": 15, "padding": 0, "rowPadding": 6, "labelOffset": 14, "symbolSize": 484, "symbolStrokeWidth": 1, "labelFontSize": 19}},
  "shape": {"field": "b", "type": "nominal", "scale": {"domain": ["Particle energy scale", "QCD Scale"], "range": ["M-1,-0.25L-0.65,-0.6M-1,0.25L-0.15,-0.6M-0.85,0.6L0.35,-0.6M-0.35,0.6L0.85,-0.6M0.15,0.6L1,-0.25M0.65,0.6L1,0.25", "M1,-0.25L0.65,-0.6M1,0.25L0.15,-0.6M0.85,0.6L-0.35,-0.6M0.35,0.6L-0.85,-0.6M-0.15,0.6L-1,-0.25M-0.65,0.6L-1,0.25"]},
             "legend": {"title": null, "orient": "top-left", "offset": 15, "padding": 0, "rowPadding": 6, "labelOffset": 14, "symbolSize": 484, "symbolStrokeWidth": 1, "labelFontSize": 19}}}}
]
}
]
}
],
"config": {
 "view": {"stroke": "#000000", "strokeWidth": 1.3},
 "font": "'Liberation Serif', serif",
 "axis": {"domain": false, "grid": false, "labelFont": "'Liberation Serif', serif", "labelFontSize": 22, "labelColor": "#111111", "tickColor": "#000000", "tickWidth": 1, "titleFont": "'Liberation Serif', serif", "titleFontSize": 21, "titleFontWeight": "normal", "titleColor": "#111111", "labelFlush": false, "labelOverlap": false},
 "legend": {"labelFont": "'Liberation Serif', serif", "labelFontSize": 19, "labelColor": "#111111"}
}
}
